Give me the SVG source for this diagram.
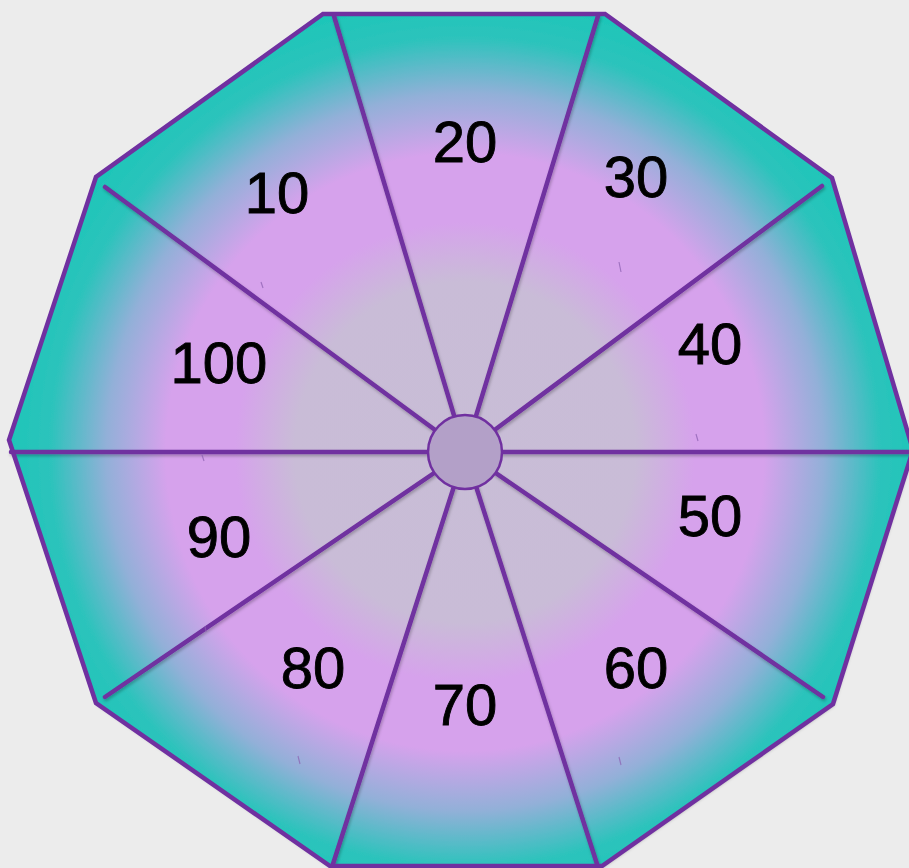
<svg xmlns="http://www.w3.org/2000/svg" width="909" height="868" viewBox="0 0 909 868">
<defs>
<radialGradient id="fill" gradientUnits="userSpaceOnUse" cx="465" cy="452" r="460">
<stop offset="0" stop-color="#c8bdd6"/>
<stop offset="0.37" stop-color="#c9bcd7"/>
<stop offset="0.5" stop-color="#d6a2ec"/>
<stop offset="0.65" stop-color="#d6a2ec"/>
<stop offset="0.78" stop-color="#92b0d8"/>
<stop offset="0.9" stop-color="#2dc3bc"/>
<stop offset="1" stop-color="#1cc6b8"/>
</radialGradient>
<filter id="sh" x="-5%" y="-5%" width="110%" height="110%">
<feDropShadow dx="1" dy="2" stdDeviation="1.5" flood-color="#000" flood-opacity="0.25"/>
</filter>
</defs>
<style>
.edge{fill:none;stroke:#7030a0;stroke-width:4.5;stroke-linejoin:miter}
.spoke{stroke:#7030a0;stroke-width:4.5;stroke-linecap:round}
.lbl{font-family:"Liberation Sans",Arial,sans-serif;font-size:58px;fill:#000;stroke:#000;stroke-width:0.9;text-anchor:middle}
.tick{stroke:#8a5fb0;stroke-width:1.2;opacity:0.7}
</style>
<rect width="909" height="868" fill="#ececec"/>
<g id="wheel">
<polygon points="323,14 605,14 832,178 913,450 833,704 602,866 330,866 96,703 9,440 96,177" fill="url(#fill)" filter="url(#sh)"/>
<g id="connectors" filter="url(#sh)">
<line class="spoke" x1="105" y1="187" x2="465" y2="452"/>
<line class="spoke" x1="334" y1="16" x2="465" y2="452"/>
<line class="spoke" x1="598" y1="16" x2="465" y2="452"/>
<line class="spoke" x1="822" y1="186" x2="465" y2="452"/>
<line class="spoke" x1="912" y1="452" x2="465" y2="452"/>
<line class="spoke" x1="823" y1="697" x2="465" y2="452"/>
<line class="spoke" x1="597" y1="864" x2="465" y2="452"/>
<line class="spoke" x1="333" y1="864" x2="465" y2="452"/>
<line class="spoke" x1="105" y1="697" x2="465" y2="452"/>
<line class="spoke" x1="11" y1="452" x2="465" y2="452"/>
</g>
<polygon class="edge" points="323,14 605,14 832,178 913,450 833,704 602,866 330,866 96,703 9,440 96,177"/>
<g class="ticks">
<line class="tick" x1="261" y1="282" x2="263" y2="288"/>
<line class="tick" x1="619" y1="262" x2="621" y2="272"/>
<line class="tick" x1="696" y1="434" x2="698" y2="441"/>
<line class="tick" x1="202" y1="455" x2="204" y2="461"/>
<line class="tick" x1="205" y1="626" x2="206" y2="632"/>
<line class="tick" x1="298" y1="756" x2="300" y2="764"/>
<line class="tick" x1="619" y1="757" x2="621" y2="765"/>
</g>
</g>
<g id="hub">
<circle cx="465" cy="452" r="37" fill="#b3a0c8" stroke="#7030a0" stroke-width="2.5"/>
</g>
<g id="labels">
<text id="n10" class="lbl" x="277" y="213">10</text>
<text id="n20" class="lbl" x="465" y="162">20</text>
<text id="n30" class="lbl" x="636" y="197">30</text>
<text id="n40" class="lbl" x="710" y="364">40</text>
<text id="n50" class="lbl" x="710" y="536">50</text>
<text id="n60" class="lbl" x="636" y="688">60</text>
<text id="n70" class="lbl" x="465" y="725">70</text>
<text id="n80" class="lbl" x="313" y="688">80</text>
<text id="n90" class="lbl" x="219" y="557">90</text>
<text id="n100" class="lbl" x="219" y="383">100</text>
</g>
</svg>
